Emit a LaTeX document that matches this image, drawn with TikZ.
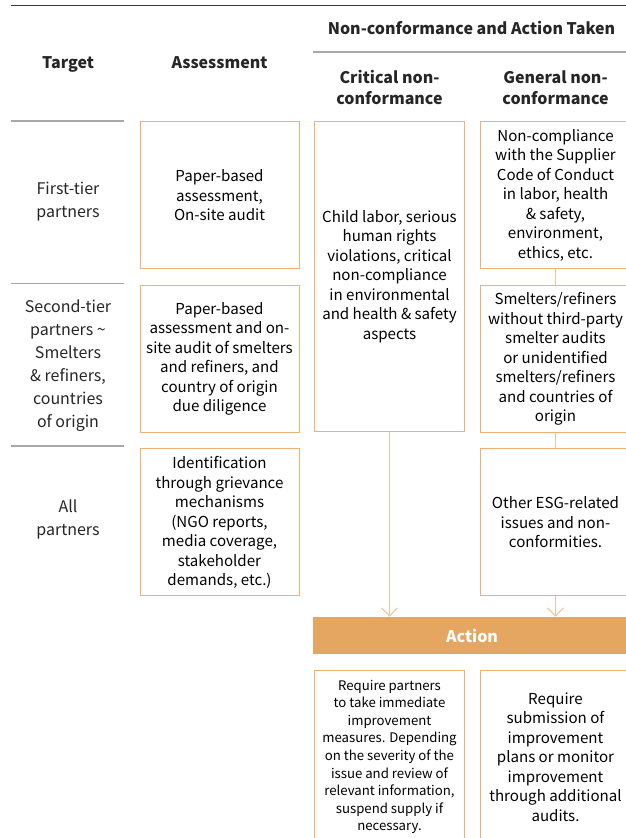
\documentclass[tikz,border=0pt]{standalone}
\usepackage{fontspec}
\setmainfont{Noto Sans CJK KR}
\usetikzlibrary{arrows.meta,positioning}
\definecolor{boxorange}{HTML}{F0B272}
\definecolor{arroworange}{HTML}{F2C49A}
\definecolor{actionfill}{HTML}{E4A661}
\definecolor{rulegray}{HTML}{A8A8A8}
\definecolor{topgray}{HTML}{3A3A3A}
\newcommand\boxfont{\fontsize{15.1}{19.5}\selectfont}
\newcommand\headfont{\fontsize{16}{21.5}\selectfont\bfseries}
\newcommand\tierfont{\fontsize{16}{23}\selectfont}
\tikzset{
	box/.style = {draw=boxorange, line width=1pt, align=center, inner sep=0pt,
		minimum width=150.4pt, minimum height=147pt, font=\boxfont},
	head/.style = {align=center, inner sep=0pt, font=\headfont, text=black!85},
	tier/.style = {align=center, inner sep=0pt, font=\tierfont, text=black!85},
	link/.style = {draw=arroworange, line width=1pt},
	arrow/.style = {link, -{Straight Barb[length=8pt,width=16pt,line width=1pt]}},
	grayrule/.style = {draw=rulegray, line width=1.6pt},
}

\begin{document}
\begin{tikzpicture}[x=1pt, y=-1pt]
\useasboundingbox (0,0) rectangle (626,838);
\clip (0,0) rectangle (626,838);
%----------------------------------------------------------------------------
% Table rules
\draw [topgray, line width=1.6pt] (11,5.5) -- (640,5.5);
\draw [grayrule] (313,52) -- (640,52);
\draw [grayrule] (11,120.7) -- (124,120.7);
\draw [grayrule] (11,283.3) -- (124,283.3);
\draw [grayrule] (11,446) -- (124,446);

%----------------------------------------------------------------------------
% Header nodes
\node (ncHead) [head, anchor=base] at (471.5,34.5) {Non-conformance and Action Taken};
\node (tgtHead) [head, anchor=base] at (68,68.5) {Target};
\node (asmtHead) [head, anchor=base] at (219.5,68.5) {Assessment};
\node (critHead) [head] at (389.5,87.5) {Critical non-\\conformance};
\node (genHead) [head] at (555.5,87.5) {General non-\\conformance};

%----------------------------------------------------------------------------
% Target column
\node (firstTier) [tier] at (68,202) {First-tier\\partners};
\node (secondTier) [tier] at (68,365.5) {Second-tier\\partners \textasciitilde\\Smelters\\\& refiners,\\countries\\of origin};
\node (allPartners) [tier] at (68,519.5) {All\\partners};

%----------------------------------------------------------------------------
% Assessment column
\node (asmtFirst) [box, minimum width=159pt] at (219.5,195.2)
{Paper-based\\assessment,\\On-site audit};
\node (asmtSecond) [box, minimum width=159pt, below=15.6pt of asmtFirst]
{Paper-based\\assessment and on-\\site audit of smelters\\and refiners, and\\country of origin\\due diligence};
\node (asmtAll) [box, minimum width=159pt, below=15.6pt of asmtSecond]
{Identification\\through grievance\\mechanisms\\(NGO reports,\\media coverage,\\stakeholder\\demands, etc.)};

%----------------------------------------------------------------------------
% Non-conformance columns
\node (critNC) [box, minimum height=310pt] at (389.5,276.7)
{Child labor, serious\\human rights\\violations, critical\\non-compliance\\in environmental\\and health \& safety\\aspects};

\node (genCode) [box] at (555.5,195.2)
{Non-compliance\\with the Supplier\\Code of Conduct\\in labor, health\\\& safety,\\environment,\\ethics, etc.};
\node (genSmelter) [box, below=15.6pt of genCode]
{Smelters/refiners\\without third-party\\smelter audits\\or unidentified\\smelters/refiners\\and countries of\\origin};
\node (genOther) [box, below=15.6pt of genSmelter]
{Other ESG-related\\issues and non-\\conformities.};

%----------------------------------------------------------------------------
% Action bar and actions
\node (actionBar) [fill=actionfill, minimum width=318pt, minimum height=37.6pt,
	inner sep=0pt, font=\headfont, text=white] at (472,635.5) {Action};

\node (actCrit) [box, minimum height=173.4pt, font=\fontsize{13.2}{17.6}\selectfont]
	at (389.5,757) {Require partners\\to take immediate\\improvement\\measures. Depending\\on the severity of the\\issue and review of\\relevant information,\\suspend supply if\\necessary.};
\node (actGen) [box, minimum height=173.4pt] at (555.5,757)
{Require\\submission of\\improvement\\plans or monitor\\improvement\\through additional\\audits.};

%----------------------------------------------------------------------------
% Connectors
\draw [link] (genCode) -- (genSmelter);
\draw [link] (genSmelter) -- (genOther);
\draw [arrow] (critNC) -- (critNC.south |- actionBar.north);
\draw [arrow] (genOther) -- (genOther.south |- actionBar.north);
\end{tikzpicture}
\end{document}
